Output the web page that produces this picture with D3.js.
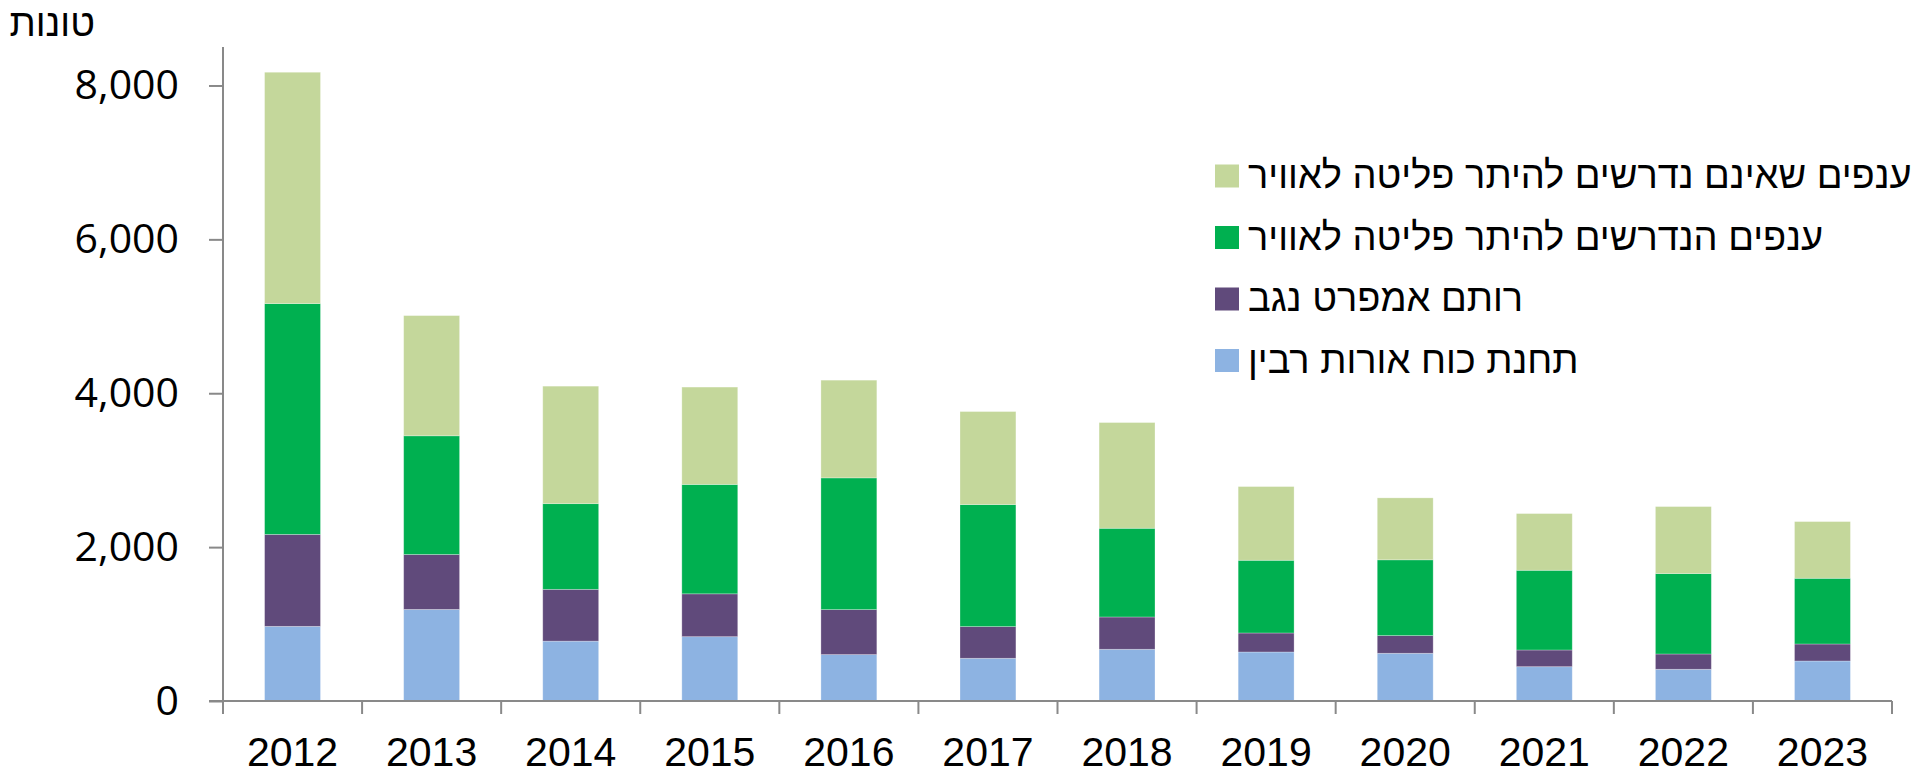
<!DOCTYPE html>
<html>
<head>
<meta charset="utf-8">
<script src="https://cdn.jsdelivr.net/npm/d3@7"></script>
<style>
  body { margin: 0; background: #fff; }
  svg { display: block; font-family: "Liberation Sans", Arial, sans-serif; }
</style>
</head>
<body>
<svg id="chart" width="1930" height="769"></svg>
<script>
const years = ['2012', '2013', '2014', '2015', '2016', '2017', '2018', '2019', '2020', '2021', '2022', '2023'];

// stacked bottom -> top
const orotRabin = [970, 1190, 778, 836, 603, 555, 672, 637, 620, 446, 412, 520];
const rotemAmfert = [1195, 714, 673, 557, 585, 412, 420, 247, 230, 217, 199, 221];
const requiredPermit = [3000, 1543, 1114, 1422, 1712, 1586, 1153, 945, 985, 1036, 1045, 854];
const notRequiredPermit = [3007, 1562, 1527, 1265, 1270, 1209, 1374, 958, 805, 737, 871, 737];

const seriesNames = ['תחנת כוח אורות רבין', 'רותם אמפרט נגב', 'ענפים הנדרשים להיתר פליטה לאוויר', 'ענפים שאינם נדרשים להיתר פליטה לאוויר'];
const seriesColors = ['#8DB3E2', '#604A7B', '#00B050', '#C4D79B'];
const yTicks = [0, 2000, 4000, 6000, 8000];

const svg = d3.select('#chart');
const margin = { left: 223, right: 1892, top: 47, bottom: 701 };

const rows = years.map((y, i) => ({
  year: y,
  s0: orotRabin[i], s1: rotemAmfert[i], s2: requiredPermit[i], s3: notRequiredPermit[i]
}));
const stack = d3.stack().keys(['s0', 's1', 's2', 's3'])(rows);

const x = d3.scaleBand().domain(years).range([margin.left, margin.right]).paddingInner(0.598).paddingOuter(0.299);
const xOuter = d3.scaleBand().domain(years).range([margin.left, margin.right]);
const y = d3.scaleLinear().domain([0, 8500]).range([margin.bottom, margin.top]);

const axisColor = '#898989';

svg.append('g').selectAll('g')
  .data(stack)
  .join('g')
  .attr('fill', (d, i) => seriesColors[i])
  .selectAll('rect')
  .data(d => d)
  .join('rect')
  .attr('x', d => x(d.data.year))
  .attr('width', x.bandwidth())
  .attr('y', d => y(d[1]))
  .attr('height', d => y(d[0]) - y(d[1]))
  .attr('stroke', '#ffffff')
  .attr('stroke-opacity', 0.35)
  .attr('stroke-width', 0.8);

// y axis
const yAxis = svg.append('g').attr('transform', `translate(${margin.left},0)`)
  .call(d3.axisLeft(y).tickValues(yTicks).tickSize(14).tickPadding(30).tickFormat(d3.format(',')));
yAxis.select('.domain').attr('stroke', axisColor).attr('stroke-width', 2)
  .attr('d', `M0,${margin.top}V${margin.bottom}`);
yAxis.selectAll('.tick line').attr('stroke', axisColor).attr('stroke-width', 2);
yAxis.selectAll('.tick text').attr('fill', '#000').attr('font-size', 41)
  .attr('font-family', '"Open Sans", "Noto Sans", sans-serif');

// x axis, ticks sit between categories
const xAxis = svg.append('g').attr('transform', `translate(0,${margin.bottom})`);
xAxis.append('line')
  .attr('x1', margin.left - 14).attr('x2', margin.right)
  .attr('stroke', axisColor).attr('stroke-width', 2);
xAxis.selectAll('line.tk')
  .data(years.map(d => xOuter(d)).concat([margin.right]))
  .join('line').attr('class', 'tk')
  .attr('x1', d => d).attr('x2', d => d)
  .attr('y1', 0).attr('y2', 13)
  .attr('stroke', axisColor).attr('stroke-width', 2);
xAxis.selectAll('text')
  .data(years)
  .join('text')
  .attr('x', d => xOuter(d) + xOuter.bandwidth() / 2)
  .attr('y', 65)
  .attr('text-anchor', 'middle')
  .attr('font-size', 41)
  .text(d => d);

// unit label
svg.append('text')
  .attr('x', 95).attr('y', 36)
  .attr('text-anchor', 'end')
  .attr('font-size', 38)
  .text('טונות');

// legend, top series first
const legendOrder = [3, 2, 1, 0];
const legend = svg.append('g').selectAll('g')
  .data(legendOrder)
  .join('g')
  .attr('transform', (d, i) => `translate(1215,${176 + i * 61.5})`);
legend.append('rect')
  .attr('x', 0).attr('y', -11.5).attr('width', 24).attr('height', 23)
  .attr('fill', d => seriesColors[d]);
legend.append('text')
  .attr('x', 33).attr('y', 12)
  .attr('text-anchor', 'start')
  .attr('font-size', 38)
  .text(d => seriesNames[d]);
</script>
</body>
</html>
